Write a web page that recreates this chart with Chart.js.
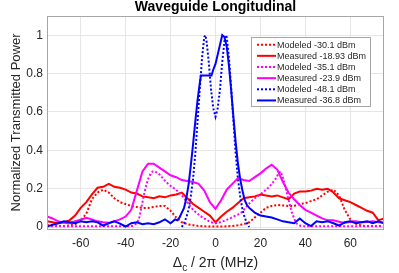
<!DOCTYPE html>
<html>
<head>
<meta charset="utf-8">
<script src="https://cdn.jsdelivr.net/npm/chart.js@4/dist/chart.umd.min.js"></script>
<style>
html,body{margin:0;padding:0;background:#fff;}
#wrap{width:399px;height:273px;position:relative;}
</style>
</head>
<body>
<div id="wrap"><canvas id="c" width="399" height="273"></canvas></div>
<script>
// ---- data ----
const titleText = "Waveguide Longitudinal";
const yAxisLabel = "Normalized Transmitted Power";
const xTicks = [-60, -40, -20, 0, 20, 40, 60];
const yTicks = [0, 0.2, 0.4, 0.6, 0.8, 1];
const seriesNames = ["Modeled -30.1 dBm", "Measured -18.93 dBm", "Modeled -35.1 dBm",
                     "Measured -23.9 dBm", "Modeled -48.1 dBm", "Measured -36.8 dBm"];

// red measured (-18.93 dBm)
const xRedMeas = [-75,-72.5,-70,-67.5,-65,-62.5,-60,-57.5,-55,-52.5,-50,-47.5,-45,-42.5,-40,-37.5,-35,-32.5,-30,-27.5,-25,-22.5,-20,-17.5,-15,-12.5,-10,-7.5,-5,-2.5,0,2.5,5,7.5,10,12.5,15,17.5,20,22.5,25,27.5,30,32.5,35,37.5,40,42.5,45,47.5,50,52.5,55,57.5,60,62.5,65,67.5,70,72.5,75];
const yRedMeas = [0.03,0.025,0.02,0.025,0.035,0.06,0.1,0.13,0.17,0.205,0.21,0.225,0.21,0.205,0.195,0.18,0.175,0.16,0.155,0.15,0.16,0.155,0.165,0.17,0.18,0.15,0.12,0.1,0.08,0.06,0.025,0.055,0.08,0.1,0.125,0.15,0.155,0.16,0.17,0.165,0.16,0.165,0.155,0.145,0.175,0.185,0.185,0.19,0.2,0.195,0.2,0.18,0.15,0.14,0.13,0.115,0.1,0.085,0.075,0.035,0.045];

// red modeled (-30.1 dBm)
const xRedMod = xRedMeas;
const yRedMod = [0.01,0.008,0.006,0.005,0.008,0.015,0.035,0.07,0.145,0.18,0.195,0.18,0.15,0.13,0.12,0.11,0.105,0.1,0.1,0.105,0.11,0.11,0.085,0.05,0.025,0.015,0.01,0.006,0.004,0.003,0.003,0.003,0.004,0.006,0.01,0.015,0.025,0.05,0.075,0.1,0.11,0.115,0.113,0.11,0.11,0.12,0.125,0.135,0.145,0.165,0.185,0.195,0.165,0.09,0.04,0.018,0.008,0.005,0.005,0.005,0.005];

// magenta measured (-23.9 dBm)
const xMagMeas = xRedMeas;
const yMagMeas = [0.055,0.045,0.03,0.022,0.02,0.03,0.038,0.048,0.04,0.03,0.025,0.022,0.03,0.04,0.055,0.09,0.19,0.29,0.33,0.33,0.31,0.29,0.27,0.26,0.245,0.24,0.235,0.225,0.19,0.13,0.095,0.14,0.195,0.225,0.255,0.245,0.24,0.26,0.28,0.305,0.325,0.3,0.235,0.18,0.145,0.115,0.09,0.075,0.06,0.045,0.035,0.035,0.028,0.022,0.028,0.03,0.025,0.027,0.03,0.025,0.022];

// magenta modeled (-35.1 dBm)
const xMagMod = [-75,-70,-65,-60,-55,-50,-45,-40,-37,-35,-34,-33,-32,-31,-30,-29,-28,-27,-26,-25,-24,-22,-20,-18,-16,-14,-12,-10,-8,-6,-4,-2,0,2,4,6,8,10,12,14,16,18,20,22,24,26,27,28,29,30,31,32,33,34,35,36,38,40,45,50,55,60,65,70,75];
const yMagMod = [0.004,0.004,0.004,0.004,0.004,0.004,0.004,0.004,0.006,0.02,0.045,0.1,0.16,0.21,0.25,0.275,0.29,0.29,0.283,0.275,0.262,0.235,0.215,0.198,0.178,0.15,0.12,0.09,0.07,0.052,0.038,0.025,0.02,0.025,0.033,0.043,0.055,0.065,0.08,0.11,0.135,0.155,0.17,0.19,0.21,0.24,0.255,0.28,0.29,0.26,0.215,0.165,0.12,0.075,0.045,0.02,0.006,0.004,0.004,0.004,0.004,0.004,0.004,0.004,0.004];

// blue modeled (-48.1 dBm)
const xBlueMod = [-15,-14,-13,-12,-11,-10,-9,-8,-7,-6,-5,-4.5,-4,-3,-2,-1,0,1,2,3,4,4.5,5,6,7,8,9,10,11,12,13,14,15];
const yBlueMod = [0,0.02,0.05,0.09,0.16,0.25,0.38,0.55,0.72,0.88,0.99,1.0,0.97,0.86,0.72,0.62,0.575,0.62,0.72,0.86,0.97,1.0,0.99,0.88,0.72,0.55,0.38,0.25,0.16,0.09,0.05,0.02,0];

// blue measured (-36.8 dBm)
const xBlueMeas = [-75,-72.5,-70,-67.5,-65,-62.5,-60,-57.5,-55,-52.5,-50,-47.5,-45,-42.5,-40,-37.5,-35,-32.5,-30,-27.5,-25,-22.5,-20,-18,-17,-16,-15,-14,-13,-12,-11,-10,-9,-8,-7,-6.5,-5,-3.5,-1.8,-1,0,1,2,3,4,5,6,7,8,9,10,11,12,13,14,15,16,17.5,20,22.5,25,27.5,30,32.5,35,37.5,40,42.5,45,47.5,50,52.5,55,57.5,60,62.5,65,67.5,70,72.5,75];
const yBlueMeas = [0.003,0.012,0.02,0.03,0.025,0.02,0.03,0.025,0.03,0.025,0.008,0.02,0.03,0.018,0.003,0.02,0.025,0.015,0.02,0.015,0.025,0.04,0.02,0.04,0.035,0.05,0.075,0.1,0.15,0.22,0.32,0.43,0.55,0.66,0.75,0.79,0.79,0.79,0.79,0.82,0.85,0.9,0.95,1.0,0.99,0.94,0.84,0.71,0.57,0.44,0.33,0.25,0.19,0.14,0.115,0.1,0.09,0.075,0.06,0.055,0.05,0.04,0.03,0.025,0.02,0.045,0.02,0.005,0.03,0.025,0.03,0.02,0.008,0.025,0.03,0.02,0.025,0.03,0.02,0.03,0.02];

const colors = ["#ff0000", "#ff0000", "#ff00ff", "#ff00ff", "#0000ff", "#0000ff"];
const dotted = [true, false, true, false, true, false];
const xs = [xRedMod, xRedMeas, xMagMod, xMagMeas, xBlueMod, xBlueMeas];
const ys = [yRedMod, yRedMeas, yMagMod, yMagMeas, yBlueMod, yBlueMeas];

const FONT = "'Liberation Sans', Arial, Helvetica, sans-serif";

const datasets = seriesNames.map((name, k) => ({
  label: name,
  data: xs[k].map((x, i) => ({x: x, y: ys[k][i]})),
  borderColor: colors[k],
  backgroundColor: colors[k],
  borderWidth: 2,
  borderDash: dotted[k] ? [2, 2] : [],
  pointRadius: 0,
  tension: 0,
  fill: false,
  order: 6 - k
}));

const decor = {
  id: 'decor',
  beforeDatasetsDraw(chart) {},
  afterDraw(chart) {
    const ctx = chart.ctx;
    const a = chart.chartArea;
    ctx.save();
    // axes box
    ctx.strokeStyle = '#a6a6a6';
    ctx.lineWidth = 1;
    ctx.setLineDash([]);
    ctx.strokeRect(a.left + 0.5, a.top + 0.5, a.right - a.left - 1, a.bottom - a.top);
    // title
    ctx.fillStyle = '#000';
    ctx.font = "bold 14px " + FONT;
    ctx.textAlign = 'center';
    ctx.textBaseline = 'alphabetic';
    ctx.fillText(titleText, (a.left + a.right) / 2, 11);
    // y label
    ctx.save();
    ctx.translate(16, (a.top + a.bottom) / 2);
    ctx.rotate(-Math.PI / 2);
    ctx.font = "13px " + FONT;
    ctx.fillStyle = '#262626';
    ctx.textAlign = 'center';
    ctx.textBaseline = 'middle';
    ctx.fillText(yAxisLabel, 0, 0);
    ctx.restore();
    // x label with subscript
    ctx.font = "14px " + FONT;
    ctx.fillStyle = '#262626';
    ctx.textBaseline = 'alphabetic';
    ctx.textAlign = 'left';
    const p1 = "\u0394", p2 = "c", p3 = " / 2\u03c0 (MHz)";
    const w1 = ctx.measureText(p1).width;
    ctx.font = "10px " + FONT;
    const w2 = ctx.measureText(p2).width;
    ctx.font = "14px " + FONT;
    const w3 = ctx.measureText(p3).width;
    let x0 = (a.left + a.right) / 2 - (w1 + w2 + w3) / 2;
    const base = 267;
    ctx.fillText(p1, x0, base);
    ctx.font = "10px " + FONT;
    ctx.fillText(p2, x0 + w1, base + 4);
    ctx.font = "14px " + FONT;
    ctx.fillText(p3, x0 + w1 + w2, base);
    // legend
    const lx = 251, ly = 37, lw = 119, lh = 69;
    ctx.fillStyle = '#fff';
    ctx.fillRect(lx, ly, lw, lh);
    ctx.strokeStyle = '#a6a6a6';
    ctx.lineWidth = 1;
    ctx.strokeRect(lx + 0.5, ly + 0.5, lw, lh);
    ctx.font = "9px " + FONT;
    ctx.textBaseline = 'middle';
    ctx.textAlign = 'left';
    for (let k = 0; k < seriesNames.length; k++) {
      const yy = 44.7 + k * 11.15;
      ctx.strokeStyle = colors[k];
      ctx.lineWidth = 2;
      ctx.setLineDash(dotted[k] ? [2, 2] : []);
      ctx.beginPath();
      ctx.moveTo(257, yy);
      ctx.lineTo(276, yy);
      ctx.stroke();
      ctx.setLineDash([]);
      ctx.fillStyle = '#262626';
      ctx.fillText(seriesNames[k], 277, yy + 0.5);
    }
    ctx.restore();
  }
};

new Chart(document.getElementById('c'), {
  type: 'line',
  data: { datasets: datasets },
  options: {
    responsive: false,
    animation: false,
    devicePixelRatio: 1,
    layout: { padding: { left: 0, right: 15, top: 16, bottom: 0 } },
    plugins: { legend: { display: false }, title: { display: false }, tooltip: { enabled: false } },
    scales: {
      x: {
        type: 'linear',
        min: -75, max: 75,
        afterBuildTicks: (s) => { s.ticks = xTicks.map(v => ({value: v})); },
        afterFit: (s) => { s.height = 44; },
        grid: { color: '#e6e6e6', drawTicks: false, lineWidth: 1 },
        border: { display: false },
        ticks: { font: { family: FONT, size: 12 }, color: '#262626', padding: 7, maxRotation: 0,
                 callback: (v) => String(v) }
      },
      y: {
        type: 'linear',
        min: -0.01, max: 1.1,
        afterBuildTicks: (s) => { s.ticks = yTicks.map(v => ({value: v})); },
        afterFit: (s) => { s.width = 47; },
        grid: { color: '#e6e6e6', drawTicks: false, lineWidth: 1 },
        border: { display: false },
        ticks: { font: { family: FONT, size: 12 }, color: '#262626', padding: 4,
                 callback: (v) => String(v) }
      }
    }
  },
  plugins: [decor]
});
</script>
</body>
</html>
